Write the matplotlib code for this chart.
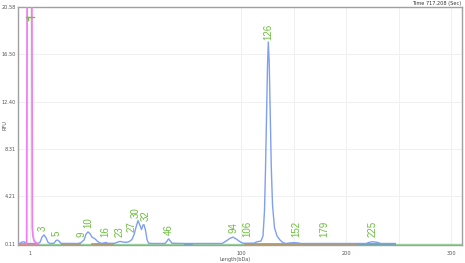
import numpy as np
import matplotlib
matplotlib.use("Agg")
import matplotlib.pyplot as plt

# ---------------- data ----------------
# blue trace: migration position (scan units) and signal (RFU)
trace_x = [0, 2, 4, 6, 8, 10, 20, 22, 24, 26, 28, 30, 32, 36, 38, 39.5, 41, 43, 60, 63, 66, 68, 70,
           72, 74, 77, 80, 83, 86, 88, 90, 97, 100, 102, 105, 108, 111, 114, 116, 118, 120,
           122, 123.5, 125, 126, 127.5, 129, 130.5, 134, 147, 149, 150.5, 152, 154, 167, 174,
           204, 208, 212, 215, 218, 222, 225, 236, 239, 243, 245, 246.5, 247.5, 248.5, 249.5,
           250.3, 251.2, 252.2, 253.2, 254.5, 256.5, 259, 262, 265, 268, 272, 276, 280, 283,
           348, 352, 355, 359, 363, 377]
trace_y = [0.15, 0.16, 0.28, 0.30, 0.18, 0.15, 0.15, 0.25, 0.70, 0.89, 0.65, 0.25, 0.15, 0.17,
           0.40, 0.45, 0.35, 0.16, 0.15, 0.22, 0.45, 0.95, 1.15, 1.00, 0.70, 0.55, 0.30, 0.16,
           0.20, 0.24, 0.16, 0.17, 0.28, 0.33, 0.28, 0.25, 0.30, 0.50, 0.90, 1.55, 2.13, 1.70,
           1.35, 1.75, 1.77, 1.30, 0.50, 0.18, 0.15, 0.15, 0.35, 0.55, 0.40, 0.17, 0.15, 0.15,
           0.15, 0.35, 0.60, 0.70, 0.55, 0.30, 0.17, 0.18, 0.30, 0.36, 0.80, 3.0, 6.5, 11.0,
           15.5, 17.56, 15.8, 11.5, 7.0, 3.5, 1.5, 0.80, 0.45, 0.22, 0.15, 0.20, 0.22, 0.20,
           0.15, 0.15, 0.27, 0.30, 0.25, 0.15, 0.15]

# magenta (size marker, off scale)
marker_x = [8, 8.7, 9.2, 13.8, 14.3, 15.0, 16.0, 18.0, 20.0]
marker_y = [0.15, 0.3, 25.0, 25.0, 1.5, 0.8, 0.4, 0.2, 0.15]

# peak labels (kDa) and their migration positions
peak_names = ["3", "5", "9", "10", "16", "23", "27", "30", "32", "46", "94", "106",
              "126", "152", "179", "225"]
peak_pos = [25, 39, 63, 70, 87, 102, 113.5, 117.5, 128, 151, 215, 229, 250, 278, 306, 355]

# axis ticks
xtick_pos = [12, 223, 328, 433]
xtick_labels = ["1", "100", "200", "300"]
xgrid_pos = [12, 223, 275.5, 328, 380.5, 433]
ytick_vals = [0.11, 4.21, 8.31, 12.40, 16.50, 20.58]

# baseline bin segments (start, end)
seg_red = [(0, 20)]
seg_brown = [(44, 62), (74, 95), (227, 339)]
seg_teal = [(167, 174), (340, 377)]

# ---------------- plot ----------------
fig = plt.figure(figsize=(4.65, 2.63), dpi=100)
ax = fig.add_axes([18 / 465, 18 / 263, 444 / 465, 238 / 263])
ax.set_xlim(0, 444)
ax.set_ylim(0.02, 20.58)

for gx in xgrid_pos:
    ax.axvline(gx, color="#f0f0f0", lw=0.7, zorder=0)
for gy in ytick_vals:
    ax.axhline(gy, color="#f0f0f0", lw=0.7, zorder=0)

# baseline
ax.plot([20, 444], [0.13, 0.13], color="#98dc98", lw=1.0, zorder=1)
for a, b in seg_red:
    ax.plot([a, b], [0.13, 0.13], color="#e87a6a", lw=1.2, zorder=2)
for a, b in seg_brown:
    ax.plot([a, b], [0.13, 0.13], color="#b8905a", lw=1.2, zorder=2)
for a, b in seg_teal:
    ax.plot([a, b], [0.13, 0.13], color="#5a9ea8", lw=1.2, zorder=2)

ax.plot(trace_x, trace_y, color="#7f9ff0", lw=1.0, zorder=3)
ax.plot(marker_x, marker_y, color="#f47cf4", lw=1.3, zorder=4, clip_on=True)

# green flag at top
ax.plot([8, 16], [19.69, 19.69], color="#70c040", lw=1.0, zorder=5)
ax.plot([9.5, 9.5], [19.45, 19.75], color="#70c040", lw=1.0, zorder=5)

tx = np.array(trace_x, dtype=float)
ty = np.array(trace_y, dtype=float)
for name, p in zip(peak_names, peak_pos):
    h = np.interp(np.linspace(p - 2, p + 2, 21), tx, ty).max()
    ax.text(p, max(0.72, h + 0.35), name, rotation=90, ha="center", va="bottom",
            color="#6cbf3c", fontsize=7, family="Liberation Sans", zorder=6)

ax.set_xticks(xtick_pos)
ax.set_xticklabels(xtick_labels)
ax.set_yticks(ytick_vals)
ax.set_yticklabels([f"{v:.2f}" for v in ytick_vals])
ax.tick_params(length=0, labelsize=3.6, colors="#555555")
ax.tick_params(axis="x", pad=4.5)
ax.tick_params(axis="y", pad=1.5)

for s in ax.spines.values():
    s.set_color("#a0a0a0")
    s.set_linewidth(1.0)

fig.text(5 / 465, 1 - 125 / 263, "RFU", rotation=90, ha="center", va="center",
         fontsize=3.6, color="#555555")
fig.text(235 / 465, 1 - 259 / 263, "Length(bDa)", ha="center", va="center",
         fontsize=3.6, color="#555555")
fig.text(461 / 465, 1 - 3 / 263, "Time 717.208 (Sec)", ha="right", va="center",
         fontsize=3.6, color="#333333")

fig.savefig("out.png", dpi=100)
